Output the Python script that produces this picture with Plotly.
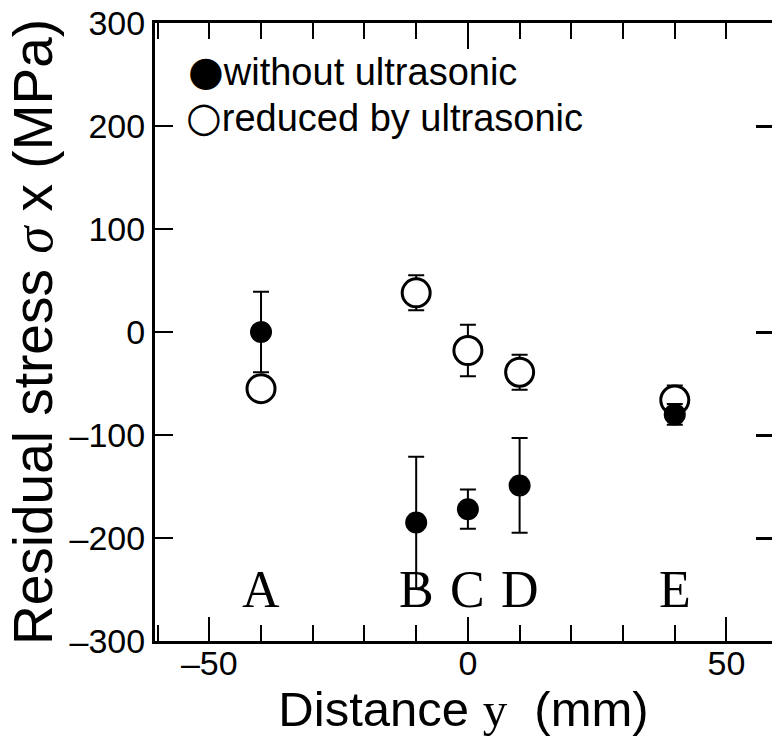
import plotly.graph_objects as go

# ---- data ----
positions = ["A", "B", "C", "D", "E"]
distance_mm = [-40, -10, 0, 10, 40]

without_ultrasonic = [0, -185, -172, -149, -80]
without_err = [39, 64, 19, 46, 10]

reduced_ultrasonic = [-55, 38, -18, -39, -66]
reduced_err = [12, 17, 25, 17, 14]

x_tick_vals = [-50, 0, 50]
x_tick_text = ["–50", "0", "50"]
y_tick_vals = [-300, -200, -100, 0, 100, 200, 300]
y_tick_text = ["–300", "–200", "–100", "0", "100", "200", "300"]
right_tick_vals = [200, 0, -100, -200]

legend_labels = ["without ultrasonic", "reduced by ultrasonic"]

SANS = "Liberation Sans, Arial, Helvetica, sans-serif"
SERIF = "Liberation Serif, Times New Roman, serif"
X_RANGE = [-60.5, 58.8]
Y_RANGE = [-300, 300]

fig = go.Figure()

# open circles (drawn first so the filled ones sit on top)
fig.add_trace(go.Scatter(
    x=distance_mm, y=reduced_ultrasonic, mode="markers",
    name=legend_labels[1],
    marker=dict(symbol="circle", size=28, color="white",
                line=dict(color="black", width=3)),
    error_y=dict(type="data", array=reduced_err, visible=True,
                 color="black", thickness=2, width=8),
    showlegend=False,
))

fig.add_trace(go.Scatter(
    x=distance_mm, y=without_ultrasonic, mode="markers",
    name=legend_labels[0],
    marker=dict(symbol="circle", size=22, color="black",
                line=dict(color="black", width=0)),
    error_y=dict(type="data", array=without_err, visible=True,
                 color="black", thickness=2, width=8),
    showlegend=False,
))

# transparent copies that make the top x axis and right y axis render
fig.add_trace(go.Scatter(x=distance_mm, y=without_ultrasonic, xaxis="x2", yaxis="y",
                         mode="markers", marker=dict(opacity=0),
                         showlegend=False, hoverinfo="skip"))
fig.add_trace(go.Scatter(x=distance_mm, y=without_ultrasonic, xaxis="x", yaxis="y2",
                         mode="markers", marker=dict(opacity=0),
                         showlegend=False, hoverinfo="skip"))

annotations = []
# position letters
for lab, xv in zip(positions, distance_mm):
    annotations.append(dict(
        x=xv, y=-250, xref="x", yref="y", text=lab, showarrow=False,
        font=dict(family=SERIF, size=52, color="black"),
        xanchor="center", yanchor="middle",
    ))

# legend rows
annotations.append(dict(
    x=0.05, y=0.922, xref="paper", yref="paper", showarrow=False,
    xanchor="left", yanchor="middle",
    text="<span style='font-family:DejaVu Sans;font-size:41px'>●</span>" + legend_labels[0],
    font=dict(family=SANS, size=38, color="black"),
))
annotations.append(dict(
    x=0.047, y=0.848, xref="paper", yref="paper", showarrow=False,
    xanchor="left", yanchor="middle",
    text="<span style='font-family:DejaVu Sans;font-size:41px'>○</span>" + legend_labels[1],
    font=dict(family=SANS, size=38, color="black"),
))

fig.update_layout(
    width=772, height=740,
    margin=dict(l=155, r=0, t=23, b=99),
    paper_bgcolor="white", plot_bgcolor="white",
    showlegend=False,
    annotations=annotations,
    xaxis=dict(
        range=X_RANGE, automargin=False,
        tickmode="array", tickvals=x_tick_vals, ticktext=x_tick_text,
        ticks="inside", ticklen=24, tickwidth=2, tickcolor="black",
        minor=dict(dtick=10, tick0=0, ticks="inside", ticklen=16,
                   tickwidth=2, tickcolor="black"),
        showline=True, linecolor="black", linewidth=3, mirror=True,
        showgrid=False, zeroline=False,
        tickfont=dict(family=SANS, size=34, color="black"),
        ticklabelstandoff=-10, ticklabeloverflow="allow",
        title=dict(
            text="Distance <span style='font-family:Liberation Serif'>y</span>  (mm)",
            font=dict(family=SANS, size=49, color="black"),
            standoff=0,
        ),
    ),
    xaxis2=dict(
        range=X_RANGE, overlaying="x", side="top", automargin=False,
        tickmode="array", tickvals=[0],
        ticks="inside", ticklen=26, tickwidth=2, tickcolor="black",
        minor=dict(dtick=10, tick0=0, ticks="inside", ticklen=16,
                   tickwidth=2, tickcolor="black"),
        showticklabels=False, showline=False, showgrid=False, zeroline=False,
    ),
    yaxis=dict(
        range=Y_RANGE, automargin=False,
        tickmode="array", tickvals=y_tick_vals, ticktext=y_tick_text,
        ticks="inside", ticklen=18, tickwidth=2, tickcolor="black",
        showline=True, linecolor="black", linewidth=3, mirror=False,
        showgrid=False, zeroline=False,
        tickfont=dict(family=SANS, size=34, color="black"),
        ticklabeloverflow="allow",
        title=dict(
            text="Residual stress <span style='font-family:Liberation Serif'><i>σ</i></span> x (MPa)",
            font=dict(family=SANS, size=55, color="black"),
            standoff=0,
        ),
    ),
    yaxis2=dict(
        range=Y_RANGE, overlaying="y", side="right", automargin=False,
        tickmode="array", tickvals=right_tick_vals,
        ticks="inside", ticklen=16, tickwidth=3, tickcolor="black",
        showticklabels=False, showline=False, showgrid=False, zeroline=False,
    ),
)

# remove the default 8 px page margin so the 772x740 figure fills the window
fig.write_html(
    "out.html",
    config={"displayModeBar": False},
    post_script="document.body.style.margin='0';document.body.style.overflow='hidden';",
)
